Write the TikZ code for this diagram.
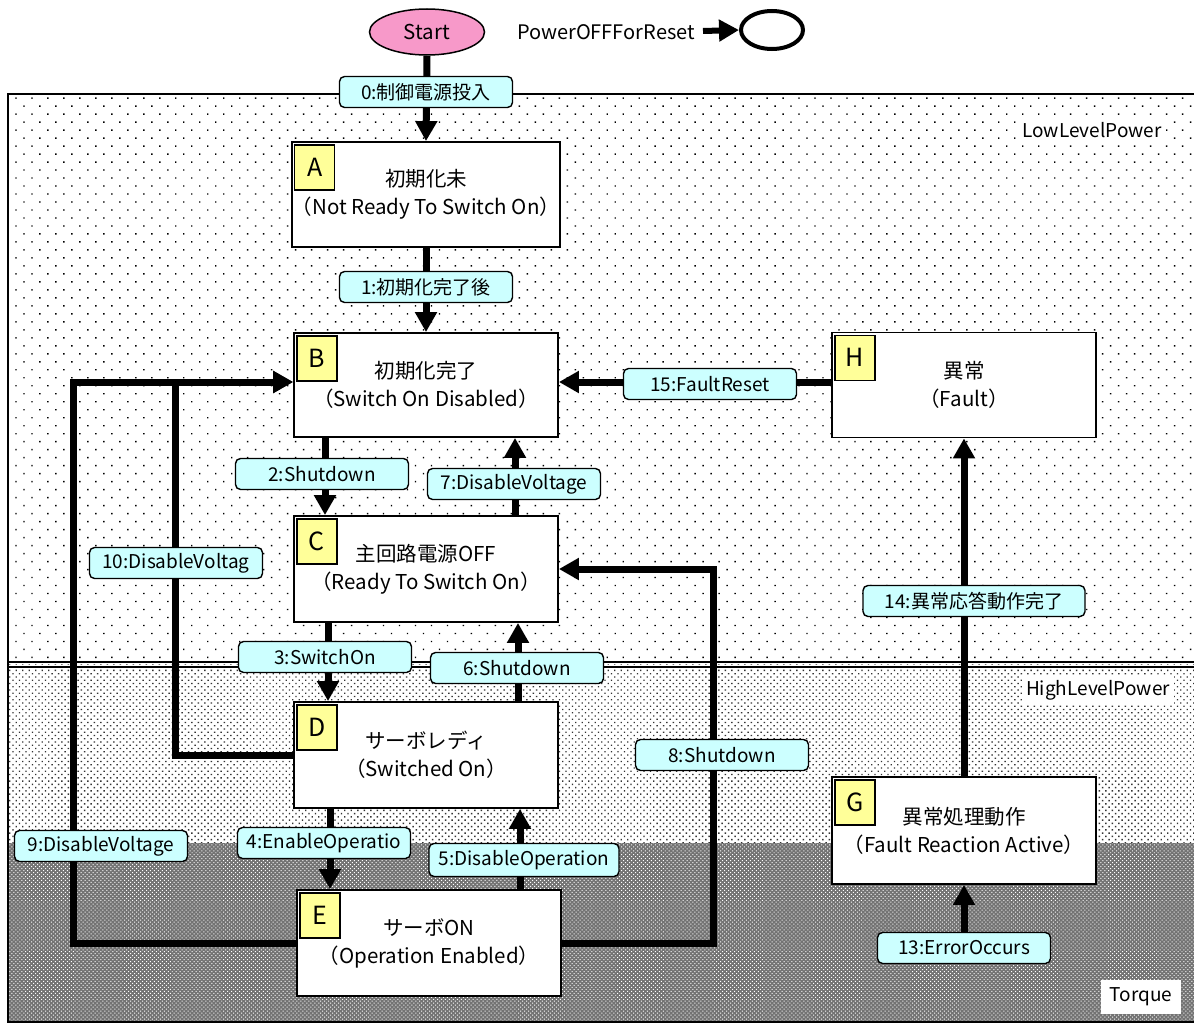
\documentclass[tikz,border=0pt]{standalone}
\usepackage{fontspec}
\setmainfont{Noto Sans CJK JP}
\usetikzlibrary{arrows.meta,patterns.meta,shapes.geometric}
\definecolor{evtfill}{HTML}{CCFFFF}
\definecolor{tagfill}{HTML}{FFFF99}
\definecolor{startfill}{HTML}{F799C9}
\pgfdeclarelayer{areas}
\pgfdeclarelayer{wires}
\pgfsetlayers{areas,wires,main}

\begin{document}
\begin{tikzpicture}[x=1pt,y=-1pt,
  every node/.style={font=\fontsize{19}{27}\selectfont},
  state/.style={draw, line width=1.8pt, fill=white, minimum width=264pt,
                minimum height=105pt, inner sep=0pt, align=center,
                font=\fontsize{20.5}{28}\selectfont},
  tag/.style={draw, line width=1.4pt, fill=tagfill, minimum width=40pt,
              minimum height=45pt, inner sep=0pt, anchor=north west,
              font=\fontsize{25}{25}\selectfont},
  evt/.style={draw, line width=1.4pt, fill=evtfill, rounded corners=5pt,
              minimum width=173pt, minimum height=31pt, inner sep=2pt},
  areatag/.style={fill=white, inner sep=4pt},
  flow/.style={line width=7pt, -{Triangle[length=20pt,width=21pt]}},
  wire/.style={line width=7pt}]
\useasboundingbox (0,0) rectangle (1194,1025);

% power areas
\begin{pgfonlayer}{areas}
\fill[white] (8,94) rectangle (1194,664);
\fill[pattern={Dots[distance=11.3pt,angle=45,radius=1pt]}, pattern color=black]
  (8,94) rectangle (1194,664);
\fill[white] (8,664) rectangle (1194,843);
\fill[pattern={Dots[distance=4.6pt,angle=45,radius=1pt]}, pattern color=black!80]
  (8,664) rectangle (1194,843);
\fill[black!55] (8,843) rectangle (1194,1022);
\fill[pattern={Dots[distance=2.8pt,angle=45,radius=0.7pt]}, pattern color=white]
  (8,843) rectangle (1194,1022);
\draw[line width=1.5pt] (1194,94) -- (8,94) -- (8,1022) -- (1194,1022);
\draw[line width=1.2pt] (8,662) -- (1194,662);
\draw[line width=1.2pt] (8,667) -- (1194,667);
\end{pgfonlayer}

\node[areatag] (lowlbl) at (1092,130) {LowLevelPower};
\node[areatag] (highlbl) at (1098,690) {HighLevelPower};
\node[areatag, minimum width=80pt, minimum height=34pt] (torquelbl) at (1141,997) {Torque};

% start and legend
\node[ellipse, draw, line width=1.5pt, fill=startfill, minimum width=115pt,
      minimum height=46pt, inner sep=0pt, font=\fontsize{20.5}{24}\selectfont]
      (start) at (427,32) {Start};
\node[font=\fontsize{20}{24}\selectfont] (legend) at (606,32) {PowerOFFForReset};
\node[ellipse, draw, line width=4pt, fill=white, minimum width=62pt,
      minimum height=38pt, inner sep=0pt] (reset) at (772,30) {};
\coordinate (legtail) at (703,31);
\draw[line width=6pt, -{Triangle[length=20pt,width=21pt]}] (legtail) -- (reset.west);

% states
\node[state] (A) at (426,194.5) {初期化未\\（Not Ready To Switch On）};
\node[state, minimum height=104pt] (B) at (426,385) {初期化完了\\（Switch On Disabled）};
\node[state, minimum height=106pt] (C) at (426,569) {主回路電源OFF\\（Ready To Switch On）};
\node[state, minimum height=106pt] (D) at (426,755) {サーボレディ\\（Switched On）};
\node[state, minimum height=106pt] (E) at (429,943) {サーボON\\（Operation Enabled）};
\node[state] (H) at (964,385) {異常\\（Fault）};
\node[state, minimum height=107pt] (G) at (964,830.5) {異常処理動作\\（Fault Reaction Active）};

\foreach \s in {A,B,C,D,E,H,G}
  \node[tag] (tag\s) at ([xshift=3pt,yshift=-3pt]\s.north west) {\s};

% routing columns and rows
\coordinate (xBC) at (325,0);
\coordinate (xCB) at (515,0);
\coordinate (xCD) at (328,0);
\coordinate (xDC) at (518,0);
\coordinate (xDE) at (330,0);
\coordinate (xED) at (520,0);
\coordinate (x9) at (73,0);
\coordinate (x10) at (175,0);
\coordinate (x8) at (713,0);
\coordinate (yB) at (0,382);

% event labels
\node[evt] (e0) at (426,92) {0:制御電源投入};
\node[evt] (e1) at (426,287) {1:初期化完了後};
\node[evt] (e2) at (322,474) {2:Shutdown};
\node[evt] (e7) at (514,484) {7:DisableVoltage};
\node[evt] (e3) at (325,657) {3:SwitchOn};
\node[evt] (e6) at (517,668) {6:Shutdown};
\node[evt] (e4) at (324,843) {4:EnableOperatio};
\node[evt, minimum width=190pt, minimum height=33pt] (e5) at (524,860) {5:DisableOperation};
\node[evt] (e10) at (176,563) {10:DisableVoltag};
\node[evt] (e9) at (101,846) {9:DisableVoltage};
\node[evt] (e8) at (722,755) {8:Shutdown};
\node[evt] (e15) at (710,384) {15:FaultReset};
\node[evt, minimum width=222pt] (e14) at (974,601) {14:異常応答動作完了};
\node[evt] (e13) at (964,948) {13:ErrorOccurs};

% transitions, kept beneath the boxes and labels
\begin{pgfonlayer}{wires}
\draw[flow] (start.south) -- (A.north);
\draw[flow] (A.south) -- (B.north);
\draw[flow] (xBC |- B.south) -- (xBC |- C.north);
\draw[flow] (xCB |- C.north) -- (xCB |- B.south);
\draw[flow] (xCD |- C.south) -- (xCD |- D.north);
\draw[flow] (xDC |- D.north) -- (xDC |- C.south);
\draw[flow] (xDE |- D.south) -- (xDE |- E.north);
\draw[flow] (xED |- E.north) -- (xED |- D.south);
\draw[flow] (D.west) -- (x10 |- D.west) -- (x10 |- yB) -- (B.west |- yB);
\draw[flow] (E.west) -- (x9 |- E.west) -- (x9 |- yB) -- (B.west |- yB);
\draw[flow] (E.east) -- (x8 |- E.east) -- (x8 |- C.east) -- (C.east);
\draw[flow] (H.west |- yB) -- (B.east |- yB);
\draw[flow] (G.north) -- (H.south);
\draw[flow] (e13.north) -- (G.south);
\end{pgfonlayer}
\end{tikzpicture}
\end{document}
